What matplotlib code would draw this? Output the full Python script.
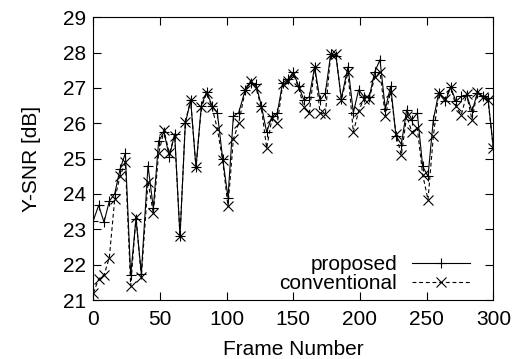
import matplotlib
matplotlib.use("Agg")
import matplotlib.pyplot as plt

frames = [0, 4, 8, 12, 16, 20, 24, 28, 32, 36, 41, 45, 49, 53, 57, 61, 65, 69, 73, 77,
          81, 85, 89, 93, 97, 101, 105, 109, 114, 118, 122, 126, 130, 134, 138, 142, 146, 150, 154, 158,
          162, 166, 170, 174, 178, 182, 186, 191, 195, 199, 203, 207, 211, 215, 219, 223, 227, 231, 235, 239,
          243, 247, 251, 255, 259, 264, 268, 272, 276, 280, 284, 288, 292, 296, 300]

proposed = [23.25, 23.68, 23.2, 23.8, 24.0, 24.7, 25.15, 21.7, 23.3, 21.75,
            24.8, 23.6, 25.5, 25.75, 25.05, 25.7, 22.8, 26.0, 26.65, 24.75,
            26.5, 26.9, 26.5, 26.3, 25.0, 23.9, 26.2, 26.3, 26.95, 27.15,
            27.1, 26.5, 25.75, 26.2, 26.3, 27.15, 27.25, 27.45, 27.05, 26.65,
            26.75, 27.6, 26.65, 26.85, 27.95, 27.9, 26.7, 27.6, 26.3, 26.95,
            26.75, 26.75, 27.45, 27.8, 26.4, 27.05, 25.65, 25.4, 26.38, 26.1,
            26.29, 24.78, 24.5, 26.1, 26.85, 26.62, 27.02, 26.62, 26.76, 26.8,
            26.34, 26.85, 26.77, 26.71, 25.3]

conventional = [21.2, 21.6, 21.7, 22.2, 23.85, 24.5, 24.9, 21.4, 23.35, 21.65,
                24.35, 23.45, 25.15, 25.8, 25.15, 25.65, 22.8, 26.05, 26.65, 24.75,
                26.45, 26.85, 26.45, 25.85, 24.95, 23.65, 25.55, 26.0, 26.95, 27.2,
                27.0, 26.45, 25.3, 26.15, 26.0, 27.1, 27.2, 27.4, 27.0, 26.45,
                26.3, 27.6, 26.3, 26.25, 27.95, 27.95, 26.65, 27.45, 25.75, 26.35,
                26.7, 26.7, 27.3, 27.45, 26.2, 26.9, 25.7, 25.1, 26.2, 25.75,
                25.87, 24.55, 23.84, 25.63, 26.85, 26.7, 27.04, 26.48, 26.24, 26.82,
                26.1, 26.9, 26.75, 26.65, 25.3]

xticks = [0, 50, 100, 150, 200, 250, 300]
yticks = [21, 22, 23, 24, 25, 26, 27, 28, 29]

FS = 15
plt.rcParams['font.family'] = ['Liberation Sans', 'DejaVu Sans']
plt.rcParams['font.size'] = FS

fig = plt.figure(figsize=(5.2, 3.59), dpi=100)
ax = fig.add_axes([0.1795, 0.1643, 0.9487 - 0.1795, 0.9518 - 0.1643])

ax.plot(frames, proposed, color='black', lw=0.8, marker='+', ms=7.5, mew=0.8,
        label='proposed')
ax.plot(frames, conventional, color='black', lw=0.8, ls=(0, (3.5, 2.5)), marker='x',
        ms=6.5, mew=0.8, label='conventional')

ax.set_xlim(0, 300)
ax.set_ylim(21, 29)
ax.set_xticks(xticks)
ax.set_yticks(yticks)
ax.tick_params(direction='in', length=6, width=0.8, top=True, right=True,
               labelsize=FS)
ax.tick_params(axis='x', pad=7)
ax.tick_params(axis='y', pad=5)
for s in ax.spines.values():
    s.set_linewidth(0.8)

ax.set_xlabel('Frame Number', fontsize=FS, labelpad=8)
ax.set_ylabel('Y-SNR [dB]', fontsize=FS, labelpad=16)

leg = ax.legend(loc='lower right', markerfirst=False, frameon=False,
                handlelength=2.8, handletextpad=0.7, labelspacing=0.0,
                borderaxespad=0.0, borderpad=0.0, bbox_to_anchor=(0.942, 0.025),
                numpoints=1, fontsize=FS)

fig.savefig('out.png', dpi=100)
